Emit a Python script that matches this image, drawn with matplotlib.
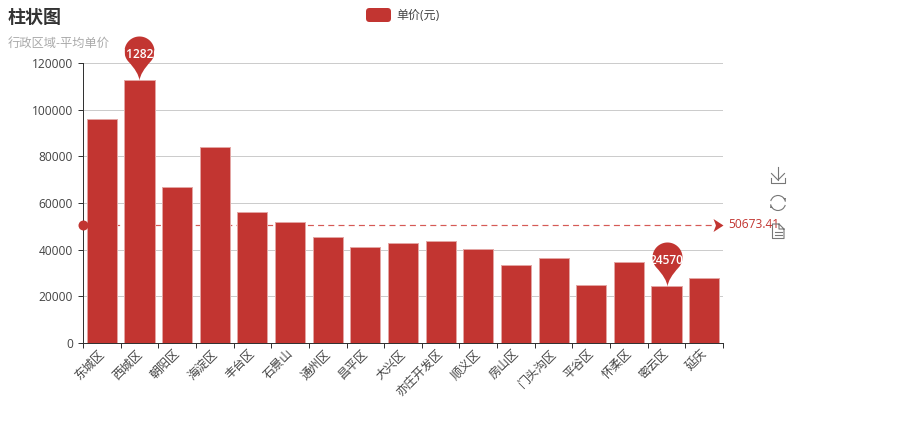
import matplotlib
matplotlib.use('Agg')
import matplotlib.pyplot as plt
import numpy as np
from matplotlib.lines import Line2D
from matplotlib.patches import Arc, FancyBboxPatch, Polygon
from matplotlib.path import Path
from matplotlib.transforms import ScaledTranslation

plt.rcParams['font.family'] = ['Open Sans', 'Noto Sans CJK SC', 'DejaVu Sans']

districts = ['东城区', '西城区', '朝阳区', '海淀区', '丰台区', '石景山', '通州区', '昌平区', '大兴区',
             '亦庄开发区', '顺义区', '房山区', '门头沟区', '平谷区', '怀柔区', '密云区', '延庆']
prices = [96200, 112820, 67000, 84000, 56100, 51800, 45600, 41300, 43000,
          43900, 40200, 33600, 36400, 25000, 34900, 24570, 28000]
mean_price = 50673.41
y_ticks = [0, 20000, 40000, 60000, 80000, 100000, 120000]

RED = '#c23531'
TEXT = '#444444'
W, H = 923, 426
PX = 72 / 100  # points per pixel at dpi 100

fig = plt.figure(figsize=(W / 100, H / 100), dpi=100, facecolor='white')
ax = fig.add_axes([83 / W, (H - 343) / H, 640 / W, 280 / H])

# ── bars, grid, axes ──────────────────────────────────────────────────────────
x = np.arange(len(districts))
ax.bar(x, prices, width=0.8, color=RED, edgecolor='#e3a5a3', linewidth=PX, zorder=3)
ax.set_xlim(-0.5, len(districts) - 0.5)
ax.set_ylim(0, 120000)
ax.set_yticks(y_ticks)
ax.set_yticklabels([str(v) for v in y_ticks])
ax.grid(axis='y', color='#cccccc', linewidth=PX, zorder=0)
ax.set_axisbelow(True)
for side in ['top', 'right']:
    ax.spines[side].set_visible(False)
for side in ['left', 'bottom']:
    ax.spines[side].set_color('#333333')
    ax.spines[side].set_linewidth(PX)
    ax.spines[side].set_zorder(4)
ax.tick_params(axis='y', length=5 * PX, width=PX, color='#333333', labelcolor=TEXT,
               labelsize=12 * PX, pad=5 * PX)
ax.set_xticks(x)
ax.set_xticklabels(districts, rotation=45, ha='right', va='top', rotation_mode='anchor',
                   fontsize=12 * PX, color=TEXT)
ax.tick_params(axis='x', which='major', length=0, pad=3)
ax.set_xticks(np.arange(len(districts) + 1) - 0.5, minor=True)
ax.tick_params(axis='x', which='minor', length=5 * PX, width=PX, color='#333333')
shift = ScaledTranslation(-4 / 100, 0, fig.dpi_scale_trans)
for lab in ax.get_xticklabels():
    lab.set_transform(lab.get_transform() + shift)

# ── mean line ─────────────────────────────────────────────────────────────────
ax.plot([-0.5, len(districts) - 0.5], [mean_price, mean_price], color='#d65a56',
        linewidth=PX * 1.2, dashes=(5, 3.5), zorder=2)
ax.plot([-0.5], [mean_price], marker='o', markersize=10 * PX, color=RED,
        markeredgewidth=0, clip_on=False, zorder=5)
arrow = Path([(0, 0), (-10, 6.5), (-7.5, 0), (-10, -6.5), (0, 0)])
ax.plot([len(districts) - 0.5], [mean_price], marker=arrow, markersize=20 * PX, color=RED,
        markeredgewidth=0, clip_on=False, zorder=5)
ax.annotate(f'{mean_price:.2f}', xy=(len(districts) - 0.5, mean_price), xytext=(5 * PX, 0),
            textcoords='offset points', va='center', ha='left', color=RED,
            fontsize=12 * PX, annotation_clip=False)

# ── max / min pins ────────────────────────────────────────────────────────────
t = np.radians(np.linspace(-40, 220, 50))
arc_pts = np.column_stack([15 * np.cos(t), 29 + 15 * np.sin(t)])
pin_verts = [(0, 0), (0.8, 8)] + list(arc_pts) + [(-0.8, 8), (0, 0)]
pin_codes = [Path.MOVETO, Path.CURVE3, Path.CURVE3] + [Path.LINETO] * (len(arc_pts) - 1) + [Path.CURVE3, Path.CURVE3]
pin = Path(pin_verts, pin_codes)
for i in [int(np.argmax(prices)), int(np.argmin(prices))]:
    ax.plot([x[i]], [prices[i]], marker=pin, markersize=88 * PX, color=RED,
            markeredgewidth=0, clip_on=False, zorder=6)
    ax.annotate(str(prices[i]), xy=(x[i], prices[i]), xytext=(0, 25 * PX),
                textcoords='offset points', ha='center', va='center', color='white',
                fontsize=12 * PX, fontweight='semibold', zorder=7, annotation_clip=False)

# ── overlay in pixel coordinates: title, legend, toolbox ─────────────────────
ov = fig.add_axes([0, 0, 1, 1], facecolor='none')
ov.set_xlim(0, W)
ov.set_ylim(H, 0)
ov.axis('off')

ov.text(8, 18, '柱状图', fontsize=18 * PX, fontweight='bold', color='#333333', va='center')
ov.text(8, 43, '行政区域-平均单价', fontsize=12.3 * PX, color='#aaaaaa', va='center')

ov.add_patch(FancyBboxPatch((366, 8), 25, 14, boxstyle='round,pad=0,rounding_size=3.5',
                            facecolor=RED, edgecolor='none'))
ov.text(396, 15.5, '单价(元)', fontsize=12 * PX, color=TEXT, va='center')

ICON = '#777777'
def icon_line(xs, ys):
    ov.add_line(Line2D(xs, ys, color=ICON, linewidth=0.8))

# download
icon_line([778, 778], [167, 180])
icon_line([771.5, 778, 784.5], [173.5, 180, 173.5])
icon_line([771, 771, 785, 785], [178, 182.5, 182.5, 178])
# restore
ov.add_patch(Arc((778, 203), 15, 15, theta1=195, theta2=350, color=ICON, linewidth=0.8))
ov.add_patch(Arc((778, 203), 15, 15, theta1=15, theta2=170, color=ICON, linewidth=0.8))
ov.add_patch(Polygon([(783, 198), (786, 198), (785.5, 201)], color=ICON, linewidth=0))
ov.add_patch(Polygon([(773, 208), (770, 208), (770.5, 205)], color=ICON, linewidth=0))
# data view
icon_line([779, 772.5, 772.5, 784, 784, 779, 779, 784], [224, 224, 238.5, 238.5, 229, 224, 229, 229])
icon_line([775, 782], [232, 232])
icon_line([775, 782], [235, 235])

fig.savefig('out.png', dpi=100)
